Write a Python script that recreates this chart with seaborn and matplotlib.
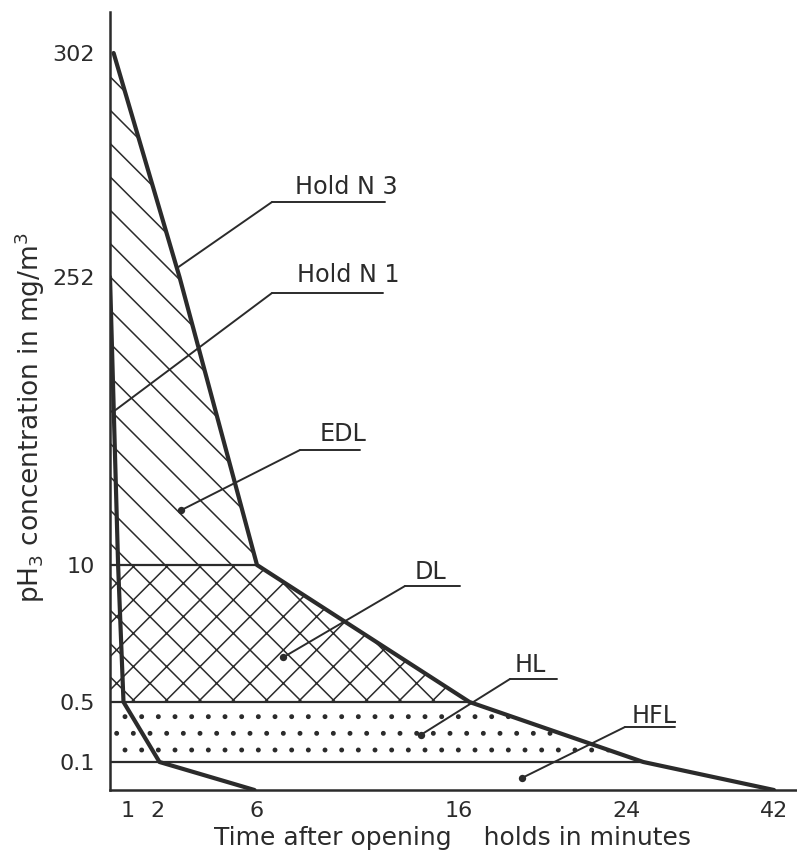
import numpy as np
import pandas as pd
import matplotlib.pyplot as plt
import seaborn as sns
from matplotlib.lines import Line2D

sns.set_theme(style="white")
plt.rcParams['font.family'] = ['DejaVu Sans']
plt.rcParams['hatch.linewidth'] = 0.55
ink = '#2b2b2b'
plt.rcParams['hatch.color'] = ink

# hand drawn axes: tick values and where they sit on the sheet (pixels)
t_ticks = [1, 2, 6, 16, 24, 42]
c_ticks = [0.1, 0.5, 10, 252, 302]
c_labels = ['0.1', '0.5', '10', '252', '302']

t_knots = [0, 1, 2, 6, 16, 24, 42, 44.8]
t_px = [110, 128, 157, 257, 459, 627, 774, 797]
c_knots = [0, 0.1, 0.5, 10, 252, 302, 311]
c_px = [790, 762, 702, 565, 277, 53, 12]

# decay curves (time in min, PH3 in mg/m3)
hold3_t = [0.2, 2.9, 6, 16.5, 26, 42]
hold3_c = [302, 252, 10, 0.5, 0.1, 0]
hold1_t = [0, 0.45, 0.75, 2.1, 5.9]
hold1_c = [252, 10, 0.5, 0.1, 0]

# limit zones
zones = ['EDL', 'DL', 'HL', 'HFL']
zone_lo = [10, 0.5, 0.1, 0]
zone_hi = [302, 10, 0.5, 0.1]
zone_hatch = ['\\\\', 'xx', '..', None]
zone_dot_t = [2.96, 7.3, 14.1, 19.0]
zone_dot_c = [56, 3.6, 0.28, 0.043]

W, H = 797, 857
fig = plt.figure(figsize=(W / 200, H / 200), dpi=200)
fig.patch.set_facecolor('white')
ax = fig.add_axes([110 / W, (H - 790) / H, (797 - 110) / W, (790 - 12) / H])

ax.set_xscale('function', functions=(lambda t: np.interp(t, t_knots, t_px),
                                     lambda p: np.interp(p, t_px, t_knots)))
c_up = [H - p for p in c_px]
ax.set_yscale('function', functions=(lambda c: np.interp(c, c_knots, c_up),
                                     lambda p: np.interp(p, c_up, c_knots)))
ax.set_xlim(0, 44.8)
ax.set_ylim(0, 311)


def curve_t(c):
    # time on the hold 3 curve for a given concentration
    return np.interp(c, hold3_c[::-1], hold3_t[::-1])


for lo, hi, hatch in zip(zone_lo, zone_hi, zone_hatch):
    if hatch is None:
        continue
    ys = sorted(c for c in hold3_c if lo <= c <= hi)
    ax.fill_betweenx(ys, 0, [curve_t(c) for c in ys], facecolor='none',
                     edgecolor=ink, linewidth=0, hatch=hatch)

levels = [10, 0.5, 0.1]
ax.hlines(levels, 0, [curve_t(c) for c in levels], color=ink, lw=0.8)

df3 = pd.DataFrame({'t': hold3_t, 'c': hold3_c})
df1 = pd.DataFrame({'t': hold1_t, 'c': hold1_c})
sns.lineplot(data=df3, x='t', y='c', sort=False, estimator=None, ax=ax,
             color=ink, linewidth=1.5)
sns.lineplot(data=df1, x='t', y='c', sort=False, estimator=None, ax=ax,
             color=ink, linewidth=1.5)
sns.scatterplot(x=zone_dot_t, y=zone_dot_c, ax=ax, color=ink, s=7,
                linewidth=0, zorder=5)

ax.set_xticks(t_ticks)
ax.set_xticklabels([str(t) for t in t_ticks])
ax.set_yticks(c_ticks)
ax.set_yticklabels(c_labels)
ax.minorticks_off()
ax.tick_params(axis='both', direction='out', length=3, width=1.4,
               color=ink, labelcolor=ink, labelsize=8)
ax.tick_params(axis='y', pad=2.5)
ax.tick_params(axis='x', pad=1)
for s in ['top', 'right']:
    ax.spines[s].set_visible(False)
for s in ['left', 'bottom']:
    ax.spines[s].set_color(ink)
    ax.spines[s].set_linewidth(0.9)
ax.set_xlabel('')
ax.set_ylabel('')
ax.set_facecolor('none')


def fig_xy(x, y):
    return x / W, 1 - y / H


# labels: text position, underline start/end (sheet pixels), target on chart
labels = ['Hold N 3', 'Hold N 1'] + zones
text_xy = [(295, 187), (297, 275), (320, 434), (415, 572), (515, 665), (632, 716)]
line_x = [(272, 385), (272, 383), (300, 360), (405, 460), (510, 557), (625, 675)]
line_y = [202, 293, 450, 586, 679, 727]
targets = [(2.8, 254), (0.2, 139)] + list(zip(zone_dot_t, zone_dot_c))

for lab, (tx, ty), (x0, x1), ly, tgt in zip(labels, text_xy, line_x, line_y, targets):
    fig.text(*fig_xy(tx, ty), lab, ha='left', va='center', fontsize=8.6,
             color=ink)
    fig.add_artist(Line2D([x0 / W, x1 / W], [1 - ly / H, 1 - ly / H],
                          transform=fig.transFigure, color=ink, lw=0.7))
    ax.annotate('', xy=tgt, xycoords='data', xytext=fig_xy(x0, ly),
                textcoords='figure fraction',
                arrowprops=dict(arrowstyle='-', color=ink, lw=0.7,
                                shrinkA=0, shrinkB=0))

fig.text(*fig_xy(453, 838), 'Time after opening    holds in minutes',
         ha='center', va='center', fontsize=9, color=ink)
fig.text(*fig_xy(30, 418), r'pH$_3$ concentration in mg/m$^3$',
         ha='center', va='center', rotation=90, fontsize=9.5, color=ink)

fig.savefig('out.png', dpi=200, facecolor='white')
